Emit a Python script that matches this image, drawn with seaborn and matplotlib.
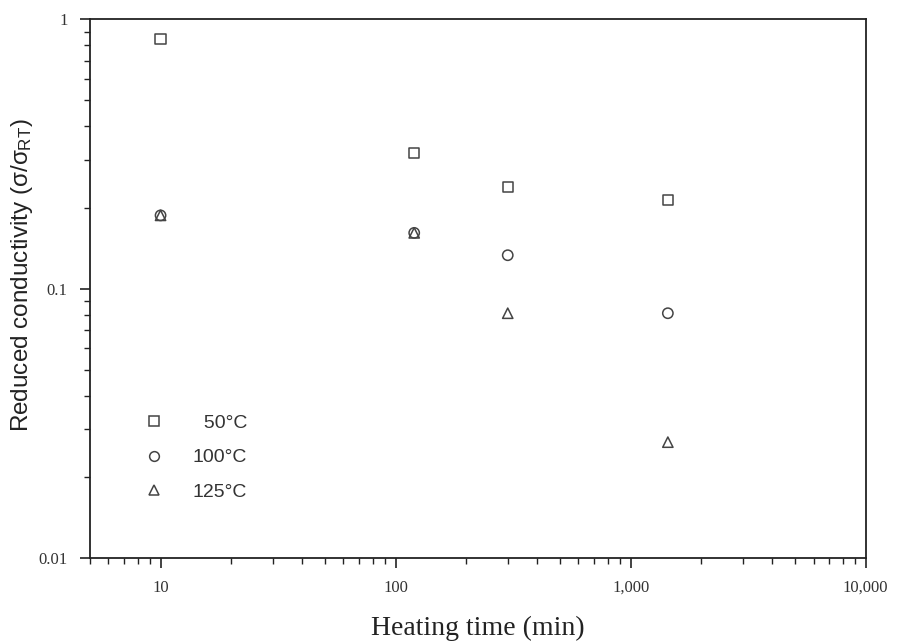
import numpy as np
import pandas as pd
import matplotlib
matplotlib.use("Agg")
import matplotlib.pyplot as plt
import matplotlib.ticker as mticker
from matplotlib.lines import Line2D
import seaborn as sns

# ==============================
# DONNEES
# ==============================

temps = [10, 120, 300, 1440]
cond_50 = [0.843, 0.318, 0.238, 0.213]
cond_100 = [0.187, 0.161, 0.133, 0.081]
cond_125 = [0.187, 0.161, 0.081, 0.0269]
series = ["50°C", "100°C", "125°C"]

df = pd.DataFrame({
    "temps": temps * 3,
    "cond": cond_50 + cond_100 + cond_125,
    "serie": [s for s in series for _ in temps],
})

# ==============================
# FIGURE
# ==============================

sns.set_style("white")
plt.rcParams["font.family"] = ["Liberation Serif", "DejaVu Serif"]
plt.rcParams["mathtext.fontset"] = "custom"
plt.rcParams["mathtext.rm"] = "Liberation Sans"
plt.rcParams["mathtext.it"] = "Liberation Sans"

fig = plt.figure(figsize=(8.98, 6.42), dpi=100)
ax = fig.add_axes([0.1, 0.131, 0.864, 0.839])

sns.scatterplot(
    data=df, x="temps", y="cond", style="serie",
    markers={"50°C": "s", "100°C": "o", "125°C": "^"},
    s=55, facecolor="none", edgecolor="#444444", linewidth=1.1,
    color="#444444", legend=False, ax=ax
)

ax.set_xscale("log")
ax.set_yscale("log")
ax.set_xlim(5, 10000)
ax.set_ylim(0.01, 1)

ax.xaxis.set_major_locator(mticker.FixedLocator([10, 100, 1000, 10000]))
ax.xaxis.set_major_formatter(mticker.FixedFormatter(["10", "100", "1,000", "10,000"]))
ax.yaxis.set_major_locator(mticker.FixedLocator([0.01, 0.1, 1]))
ax.yaxis.set_major_formatter(mticker.FixedFormatter(["0.01", "0.1", "1"]))
ax.xaxis.set_minor_locator(mticker.LogLocator(base=10, subs=np.arange(2, 10)))
ax.yaxis.set_minor_locator(mticker.LogLocator(base=10, subs=np.arange(2, 10)))
ax.xaxis.set_minor_formatter(mticker.NullFormatter())
ax.yaxis.set_minor_formatter(mticker.NullFormatter())

ax.tick_params(which="major", direction="out", length=7, width=1.2,
               labelsize=12, color="#222222", labelcolor="#333333",
               bottom=True, left=True, top=False, right=False)
ax.tick_params(axis="x", which="major", pad=9)
ax.tick_params(axis="y", which="major", pad=9)
ax.tick_params(which="minor", direction="out", length=4, width=1,
               color="#222222", bottom=True, left=True, top=False, right=False)

for sp in ax.spines.values():
    sp.set_color("#222222")
    sp.set_linewidth(1.3)

ax.set_xlabel("Heating time (min)", fontsize=20, color="#222222", labelpad=14)
ax.set_ylabel(r"Reduced conductivity ($\sigma/\sigma_{\mathrm{RT}}$)",
              fontsize=17.5, color="#222222",
              family=["Liberation Sans", "DejaVu Sans"])
ax.yaxis.set_label_coords(-0.07, 0.525)

# legende
handles = [
    Line2D([], [], linestyle="none", marker=m, markersize=7,
           markerfacecolor="none", markeredgecolor="#444444", markeredgewidth=1.1)
    for m in ["s", "o", "^"]
]
labels = ["\u2007" + series[0], series[1], series[2]]
leg = ax.legend(handles, labels, loc="lower left", bbox_to_anchor=(0.035, 0.074),
                frameon=False, handletextpad=1.0, labelspacing=0.85,
                prop={"family": ["Liberation Sans", "DejaVu Sans"], "size": 14})
for t in leg.get_texts():
    t.set_color("#333333")

fig.savefig("out.png", dpi=100)
